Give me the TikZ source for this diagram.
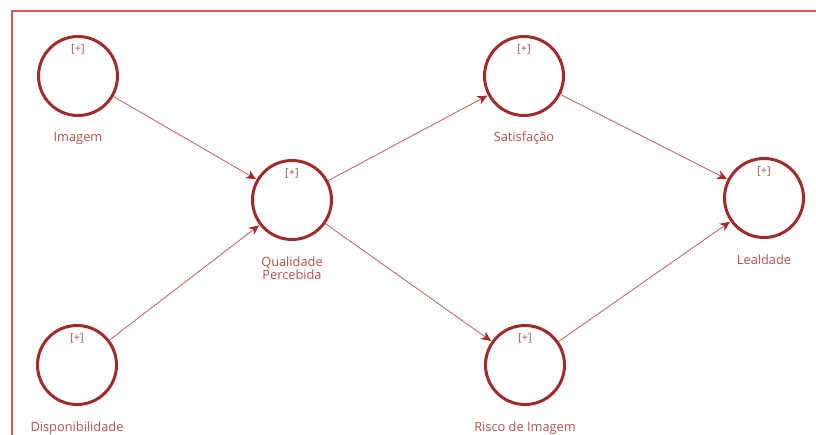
\documentclass[tikz,border=0pt]{standalone}
\usepackage{fontspec}
\setmainfont{Open Sans}
\usetikzlibrary{arrows.meta,calc}
\definecolor{circ}{HTML}{A12B2B}
\definecolor{txt}{HTML}{B5504C}
\definecolor{edge}{HTML}{C46A6A}
\definecolor{frame}{HTML}{D9575A}
\definecolor{plus}{HTML}{9E5552}
\tikzset{
  lv/.style={circle, draw=circ, line width=3pt, minimum size=79pt, inner sep=0pt},
  lbl/.style={text=txt, font=\fontsize{12.8}{15}\selectfont, align=center},
  pl/.style={text=plus, font=\fontsize{11}{13}\selectfont},
  link/.style={draw=edge, line width=0.9pt, -{Stealth[length=10pt,width=9pt,inset=3pt,color=circ]}, shorten >=0.5pt}
}
\begin{document}
\begin{tikzpicture}[x=1pt,y=-1pt]
\useasboundingbox (0,0) rectangle (816,434);
\draw[frame, line width=2pt] (11.5,440) -- (11.5,10.5) -- (820,10.5);
\node[lv] (im) at (78,76) {};
\node[lv] (qp) at (292,200) {};
\node[lv] (di) at (77,365) {};
\node[lv] (sa) at (524,76) {};
\node[lv] (ri) at (525,365) {};
\node[lv] (le) at (764,198) {};
\foreach \n in {im,qp,di,sa,ri,le}{ \node[pl] (p\n) at ($(\n)+(0,-27)$) {[+]}; }
\node[lbl] (tim) at (78,138) {Imagem};
\node[lbl] (tqp) at (292,268) {Qualidade\\[-2pt]Percebida};
\node[lbl] (tdi) at (77,428) {Disponibilidade};
\node[lbl] (tsa) at (524,138) {Satisfação};
\node[lbl] (tri) at (525,428) {Risco de Imagem};
\node[lbl] (tle) at (764,260) {Lealdade};
\draw[link] (im) -- (qp);
\draw[link] (di) -- (qp);
\draw[link] (qp) -- (sa);
\draw[link] (qp) -- (ri);
\draw[link] (sa) -- (le);
\draw[link] (ri) -- (le);
\end{tikzpicture}
\end{document}
